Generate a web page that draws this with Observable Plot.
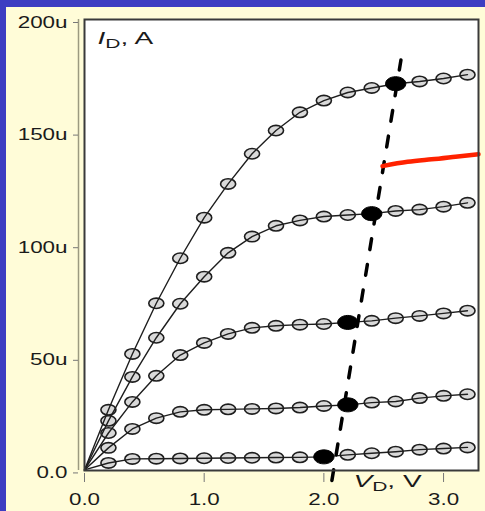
<!DOCTYPE html>
<html><head><meta charset="utf-8">
<script src="https://cdn.jsdelivr.net/npm/d3@7"></script>
<script src="https://cdn.jsdelivr.net/npm/@observablehq/plot@0.6"></script>
<style>
html,body{margin:0;padding:0;background:#3d3dc2;width:485px;height:511px;overflow:hidden}
#panel{position:absolute;left:6px;top:7px;width:479px;height:504px;background:#fffcd8}
</style></head><body><div id="panel"></div>
<script>
// drain voltage (V)
const vd = [0,0.2,0.4,0.6,0.8,1.0,1.2,1.4,1.6,1.8,2.0,2.2,2.4,2.6,2.8,3.0,3.2];
// drain current (uA), one curve per gate voltage, top to bottom
const id1 = [0,26.7,51.5,74,94,112,127,140.4,150.7,158.8,164,167.6,169.6,171.5,172.5,173.8,175.5];
const id2 = [0,21.8,41.3,58.7,73.8,85.8,96.4,103.6,108.4,110.8,112.5,113.2,113.8,115,115.6,116.9,118.6];
const id3 = [0,16.4,30.2,41.8,51,56.4,60.4,63.1,64,64.5,64.8,65.5,66.2,67.4,68.4,69.5,70.7];
const id4 = [0,9.8,18.2,23,25.8,26.7,26.9,27.1,27.3,27.7,28.4,28.9,29.9,30.4,31.9,32.9,33.6];
const id5 = [0,3.1,4.9,5.0,5.1,5.2,5.3,5.4,5.5,5.6,5.8,6.7,7.4,8.1,9.0,9.5,10.0];
// saturation points (filled) per curve
const satVd = [2.6,2.4,2.2,2.2,2.0];
// dashed saturation boundary
const dashVd = [2.067,2.644];
const dashId = [-4.7,182];
// red annotation curve
const redVd = [2.49,2.7,2.9,3.1,3.292];
const redId = [134.9,136.8,137.9,139.1,140.2];
// ticks
const xTicks = [0,1,2,3];
const xTickLabels = ["0.0","1.0","2.0","3.0"];
const yTicks = [0,50,100,150,200];
const yTickLabels = ["0.0","50u","100u","150u","200u"];
const yLabelParts = ["I","D",", A"];
const xLabelParts = ["V","D",", V"];

const series = [id1,id2,id3,id4,id5];
const rows = series.flatMap((s,k)=>vd.map((v,i)=>({k, vd:v, id:s[i]})));
const hollow = rows.filter(d=>d.vd>0 && Math.abs(d.vd-satVd[d.k])>1e-9);
const sat = rows.filter(d=>Math.abs(d.vd-satVd[d.k])<1e-9);
const dash = dashVd.map((v,i)=>({vd:v, id:dashId[i]}));
const red = redVd.map((v,i)=>({vd:v, id:redId[i]}));

const ellipse = {draw(ctx,size){
  const ry = Math.sqrt(size/Math.PI), rx = ry*1.45, k = 0.5523;
  ctx.moveTo(rx,0);
  ctx.bezierCurveTo(rx,ry*k,rx*k,ry,0,ry);
  ctx.bezierCurveTo(-rx*k,ry,-rx,ry*k,-rx,0);
  ctx.bezierCurveTo(-rx,-ry*k,-rx*k,-ry,0,-ry);
  ctx.bezierCurveTo(rx*k,-ry,rx,-ry*k,rx,0);
  ctx.closePath();
}};

const font = "'Liberation Sans', Arial, sans-serif";
const yLabelText = yLabelParts.join("");
const xLabelText = xLabelParts.join("");
const svg = Plot.plot({
  width: 479, height: 504,
  marginLeft: 78, marginRight: 7, marginTop: 12, marginBottom: 41,
  x: {domain: [0, 3.292]},
  y: {domain: [-0.25, 200]},
  style: {background: "transparent", fontFamily: font, fontSize: "16px", color: "#1a1a1a", overflow: "visible"},
  marks: [
    Plot.frame({fill: "white"}),
    Plot.ruleX([0], {dx: -6, stroke: "#9c9a80", strokeWidth: 1.5}),
    Plot.dot(hollow, {x: "vd", y: "id", r: 5.2, symbol: ellipse, fill: "#d9d9d9", stroke: "#1e1e1e", strokeWidth: 1.6}),
    Plot.line(rows, {x: "vd", y: "id", z: "k", stroke: "#1e1e1e", strokeWidth: 1.4}),
    Plot.dot(sat, {x: "vd", y: "id", r: 7, symbol: ellipse, fill: "black", stroke: "black", strokeWidth: 1}),
    Plot.line(dash, {x: "vd", y: "id", stroke: "black", strokeWidth: 3.5, strokeDasharray: "11,15"}),
    Plot.line(red, {x: "vd", y: "id", curve: "natural", stroke: "#ff2200", strokeWidth: 4.5}),
    Plot.frame({stroke: "#3a3a3a", strokeWidth: 2}),
    Plot.axisY({ticks: yTicks, tickFormat: d => yTickLabels[yTicks.indexOf(d)], tickSize: 5, tickPadding: 6, dx: -6, dy: 3, stroke: "#777", fontSize: 16, label: null}),
    Plot.axisX({ticks: xTicks, tickFormat: d => xTickLabels[xTicks.indexOf(d)], tickSize: 9, tickPadding: 11, dy: 3, stroke: "#777", fontSize: 16, label: null}),
    Plot.text([yLabelText], {frameAnchor: "top-left", dx: 13, dy: 13, textAnchor: "start", fontSize: 16}),
    Plot.text([xLabelText], {frameAnchor: "bottom-left", dx: 269, dy: 16.5, textAnchor: "start", fontSize: 16})
  ]
});
document.getElementById("panel").appendChild(svg);

const ns = "http://www.w3.org/2000/svg";
const labels = [];
function sub(t, parts){
  while (t.firstChild) t.removeChild(t.firstChild);
  const a = document.createElementNS(ns,"tspan"); a.setAttribute("font-style","italic"); a.textContent = parts[0];
  const b = document.createElementNS(ns,"tspan"); b.setAttribute("font-size","12"); b.setAttribute("dy","4"); b.textContent = parts[1];
  const c = document.createElementNS(ns,"tspan"); c.setAttribute("dy","-4"); c.textContent = parts[2];
  t.append(a,b,c);
  labels.push(t);
}
svg.querySelectorAll("text").forEach(t=>{
  if (t.textContent === yLabelText) sub(t, yLabelParts);
  else if (t.textContent === xLabelText) sub(t, xLabelParts);
});

svg.querySelectorAll("text").forEach(el=>{
  const L = el.getComputedTextLength();
  const f = labels.includes(el) ? 1.75 : 1.4;
  el.setAttribute("textLength", (L*f).toFixed(1));
  el.setAttribute("lengthAdjust","spacingAndGlyphs");
});
</script></body></html>
